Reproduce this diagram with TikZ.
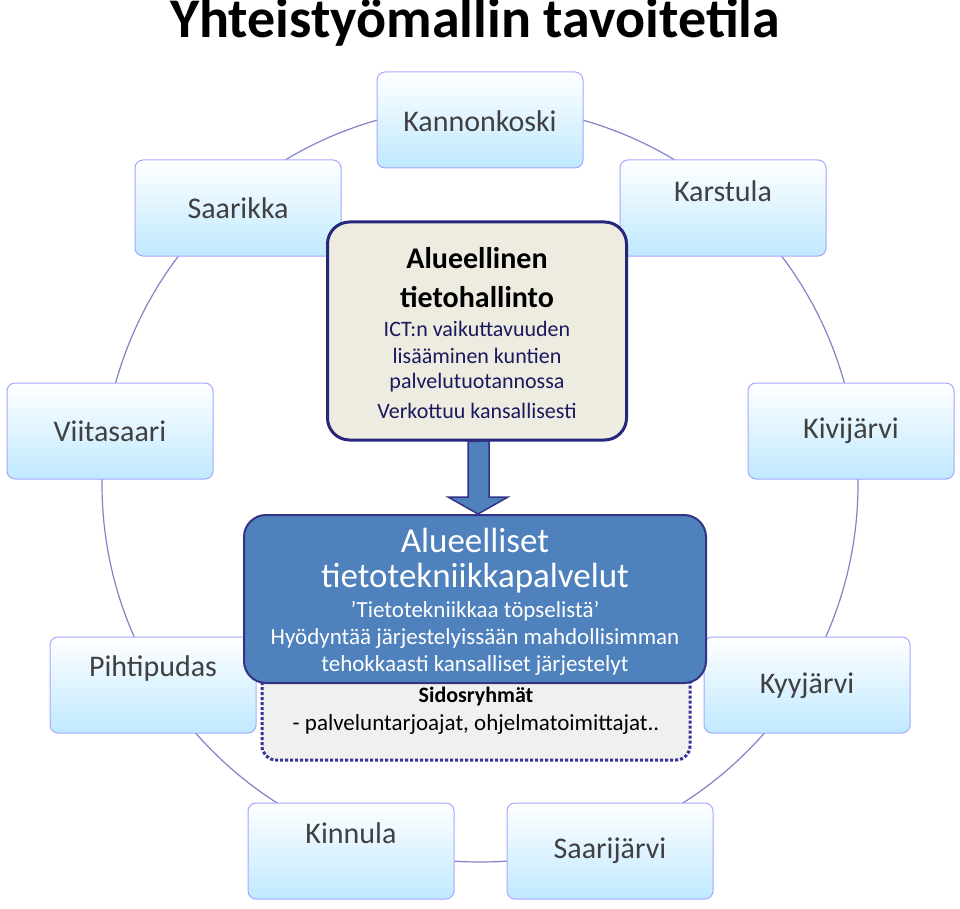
\documentclass[tikz,border=0pt]{standalone}
\usepackage{fontspec}
\setmainfont{Carlito}
\begin{document}
\begin{tikzpicture}[x=1pt,y=-1pt,
  town/.style={rounded corners=8pt,draw=blue!35!white,line width=1pt,top color=white,bottom color=blue!35!cyan!25,minimum width=206pt,minimum height=96pt,font=\fontsize{30}{34}\selectfont,text=black!75},
  tl/.style={font=\fontsize{30}{34}\selectfont,text=black!75,inner sep=0pt},
  ct/.style={font=\fontsize{22}{26}\selectfont,text=blue!30!black!90,inner sep=0pt},
  cb/.style={font=\bfseries\fontsize{30}{34}\selectfont,inner sep=0pt},
  bt/.style={font=\fontsize{35}{40}\selectfont,text=white,inner sep=0pt},
  bs/.style={font=\fontsize{23}{27}\selectfont,text=white,inner sep=0pt},
  ss/.style={font=\fontsize{23}{27}\selectfont,inner sep=0pt},
  ]
\useasboundingbox (0,0) rectangle (960,909);
\draw[blue!40!gray!70, line width=1.2pt] (480,484) circle[radius=378pt];
\node[font=\bfseries\fontsize{56}{60}\selectfont] (title) at (475,22) {Yhteistyömallin tavoitetila};
\node[town] (kan) at (480,120) {};
\node[tl] (kant) at (480,121) {Kannonkoski};
\node[town] (sar) at (238,208) {Saarikka};
\node[town] (kar) at (723,208) {};
\node[tl] (kart) at (723,191) {Karstula};
\node[town] (vii) at (110,431) {Viitasaari};
\node[town] (kiv) at (851,431) {Kivijärvi};
\node[town] (pih) at (153,685) {};
\node[tl] (piht) at (153,668) {Pihtipudas};
\node[town] (kyy) at (807,685) {};
\node[tl] (kyyt) at (807,686) {Kyyjärvi};
\node[town] (kin) at (351,851) {};
\node[tl] (kint) at (351,833) {Kinnula};
\node[town] (saj) at (610,851) {};
\node[tl] (sajt) at (610,851) {Saarijärvi};
% dotted stakeholder box
\node[draw=blue!50!black!80, dotted, line width=3pt, fill=brown!8!gray!12, rounded corners=14pt, minimum width=428pt, minimum height=100pt] (sid) at (476,710) {};
\node[ss,font=\bfseries\fontsize{22}{26}\selectfont] (sid1) at (476,697) {Sidosryhmät};
\node[ss] (sid2) at (476,724) {- palveluntarjoajat, ohjelmatoimittajat..};
% blue box
\node[draw=blue!40!black!80, line width=2pt, fill={rgb,255:red,79;green,129;blue,189}, rounded corners=22pt, minimum width=462pt, minimum height=168pt] (blue) at (475,599) {};
\node[bt] (b1) at (475,540) {Alueelliset};
\node[bt] (b2) at (475,578) {tietotekniikkapalvelut};
\node[bs] (b3) at (475,611) {’Tietotekniikkaa töpselistä’};
\node[bs] (b4) at (475,638) {Hyödyntää järjestelyissään mahdollisimman};
\node[bs] (b5) at (475,665) {tehokkaasti kansalliset järjestelyt};
% top center box
\node[draw=blue!40!black!85, line width=3pt, fill={rgb,255:red,238;green,236;blue,225}, rounded corners=22pt, minimum width=299pt, minimum height=218pt] (alh) at (477,331) {};
\node[cb] (a1) at (477,258) {Alueellinen};
\node[cb] (a2) at (477,297) {tietohallinto};
\node[ct] (a3) at (477,329) {ICT:n vaikuttavuuden};
\node[ct] (a4) at (477,356) {lisääminen kuntien};
\node[ct] (a5) at (477,383) {palvelutuotannossa};
\node[ct] (a6) at (477,411) {Verkottuu kansallisesti};
% arrow
\draw[draw=blue!40!black!80, line width=1.5pt, fill={rgb,255:red,79;green,129;blue,189}]
 (alh.south -| 468,0) -- (489,441) -- (489,497) -- (508,497) -- (blue.north -| 478,0) -- (448,497) -- (468,497) -- cycle;
\end{tikzpicture}
\end{document}
